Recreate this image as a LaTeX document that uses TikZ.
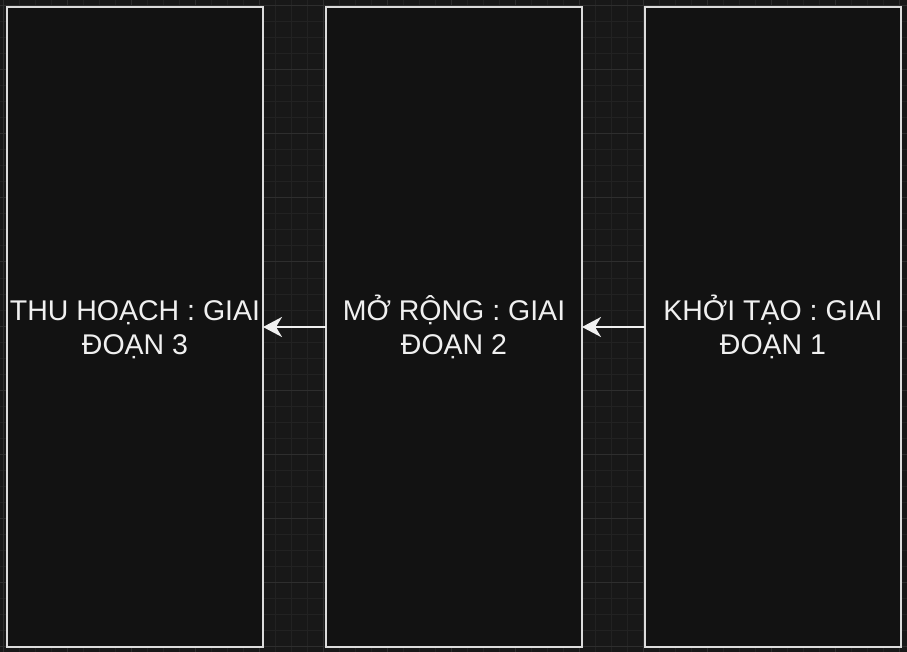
\documentclass[tikz,border=0pt]{standalone}
\usepackage{fontspec}
\setmainfont{Liberation Sans}
\usetikzlibrary{arrows.meta, positioning}
\definecolor{canvasDark}{RGB}{24,24,24}
\definecolor{gridFine}{RGB}{34,34,34}
\definecolor{gridMajor}{RGB}{46,46,46}
\definecolor{phaseFill}{RGB}{18,18,18}
\definecolor{phaseLine}{RGB}{220,220,220}
\definecolor{arrowWhite}{RGB}{240,240,240}
\newcommand{\phaselines}[2]{\rule{0pt}{31pt}#1\\#2\rule[-10pt]{0pt}{0pt}}

\begin{document}
\begin{tikzpicture}[
    x=1pt, y=-1pt,
    node distance=63pt,
    phase/.style={rectangle, draw=phaseLine, line width=2.5pt, fill=phaseFill, minimum width=256pt, minimum height=640pt, inner sep=0pt, outer sep=0pt, align=center, text=arrowWhite, font=\fontsize{28.5}{34}\selectfont},
    fineline/.style={gridFine, line width=1pt},
    majorline/.style={gridMajor, line width=1pt},
    arrow/.style={-{Stealth[length=19pt, width=20pt, inset=6pt]}, line width=2.2pt, arrowWhite}
]

% Canvas and grid
\fill[canvasDark] (0,0) rectangle (907,652);
\useasboundingbox (0,0) rectangle (907,652);
\foreach \x in {3,19,...,899} \draw[fineline] (\x,0) -- (\x,652);
\foreach \y in {6,22,...,646} \draw[fineline] (0,\y) -- (907,\y);
\foreach \x in {3,67,...,899} \draw[majorline] (\x,0) -- (\x,652);
\foreach \y in {6,70,...,646} \draw[majorline] (0,\y) -- (907,\y);

% Phases
\node[phase] (khoitao) at (773,327) {\phaselines{KHỞI TẠO : GIAI}{ĐOẠN 1}};
\node[phase, left=of khoitao] (morong) {\phaselines{MỞ RỘNG : GIAI}{ĐOẠN 2}};
\node[phase, left=of morong] (thuhoach) {\phaselines{THU HOẠCH : GIAI}{ĐOẠN 3}};

\draw[arrow] (khoitao) -- (morong);
\draw[arrow] (morong) -- (thuhoach);

\end{tikzpicture}
\end{document}
